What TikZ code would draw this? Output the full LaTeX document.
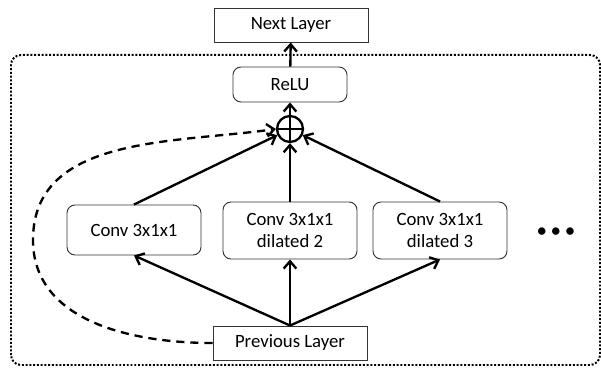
\documentclass[tikz,border=0pt]{standalone}
\usepackage{fontspec}
\setmainfont{Carlito}
\usepackage{tikz}
\usetikzlibrary{arrows.meta}

\tikzset{
    layer/.style={draw=black!80,line width=0.8pt,minimum width=4.62cm,minimum height=1.02cm,inner sep=0pt},
    block/.style={layer,rounded corners=0.24cm,minimum width=4.02cm,align=center},
    sumnode/.style={circle,draw,line width=2pt,minimum size=0.78cm,inner sep=0pt,
        path picture={\draw[line width=2pt] (path picture bounding box.north) -- (path picture bounding box.south)
            (path picture bounding box.west) -- (path picture bounding box.east);}},
    flow/.style={line width=2pt,-{Straight Barb[length=2.2mm,width=3.8mm]}},
}

\begin{document}
\begin{tikzpicture}[x=0.03cm,y=0.03cm,font=\fontsize{16pt}{19.5pt}\selectfont]
    \useasboundingbox (0,0) rectangle (601,367);
    % outer dotted frame
    \draw[line width=1.7pt,dash pattern=on 1.7pt off 1.5pt,rounded corners=0.3cm] (11,2) rectangle (600,312);

    \node[layer] (next) at (291,342) {Next Layer};
    \node[block,minimum width=3.42cm,minimum height=1.05cm] (relu) at (290,282.5) {ReLU};
    \node[sumnode] (plus) at (290,238) {};
    \node[block,minimum height=1.5cm] (conv1) at (134,137) {Conv 3x1x1};
    \node[block,minimum height=1.71cm] (conv2) at (290,136.5) {Conv 3x1x1\\dilated 2};
    \node[block,minimum height=1.71cm] (conv3) at (440,136.5) {Conv 3x1x1\\dilated 3};
    \node (dots) at (556,134) {\fontsize{18pt}{22pt}\selectfont\textbullet\,\textbullet\,\textbullet};
    \node[layer] (prev) at (290,24) {Previous Layer};
    \coordinate (bend) at (33,127);

    \draw[flow] (relu) -- (next);
    \draw[flow] (plus) -- (relu);
    \draw[flow] (conv1.north) -- (plus);
    \draw[flow] (conv2.north) -- (plus);
    \draw[flow] (conv3.north) -- (plus);
    \foreach \c in {conv1,conv2,conv3}
        \draw[flow] (prev.north) -- (\c.south);
    % skip connection
    \draw[flow,dash pattern=on 7pt off 5pt] (prev.west) to[out=180,in=270] (bend) to[out=90,in=188] (plus.west);
\end{tikzpicture}
\end{document}
